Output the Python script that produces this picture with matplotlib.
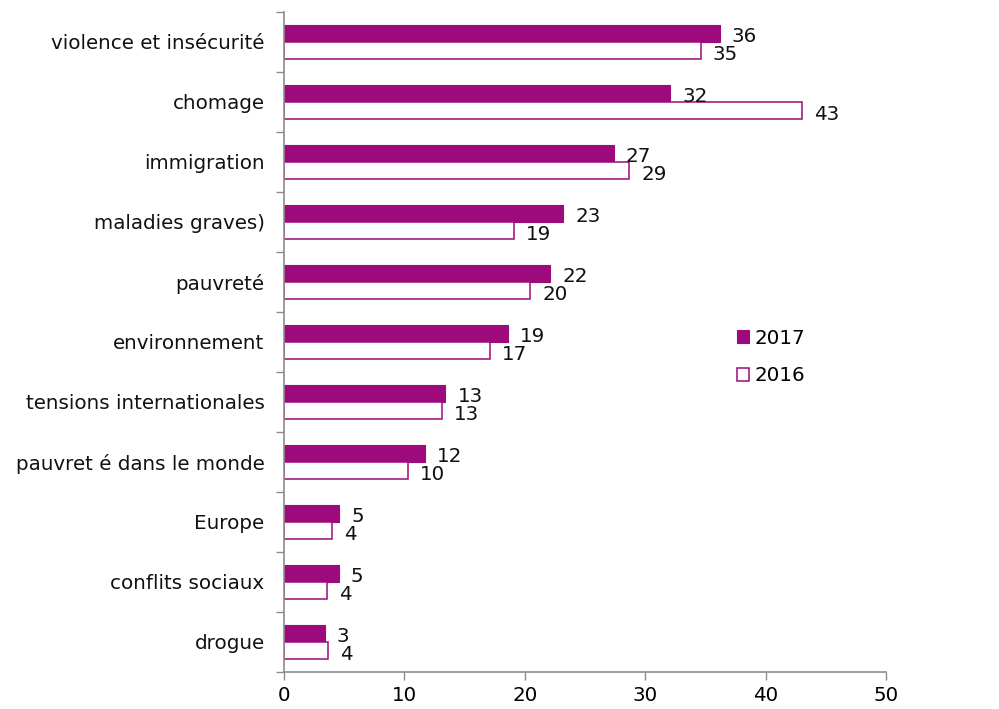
import matplotlib.pyplot as plt
import numpy as np

categories = ["violence et insécurité", "chomage", "immigration", "maladies graves)",
              "pauvreté", "environnement", "tensions internationales",
              "pauvret é dans le monde", "Europe", "conflits sociaux", "drogue"]
v2017 = [36.2, 32.1, 27.4, 23.2, 22.1, 18.6, 13.4, 11.7, 4.6, 4.55, 3.4]
v2016 = [34.6, 43.05, 28.65, 19.1, 20.45, 17.1, 13.1, 10.28, 3.97, 3.55, 3.65]
xticks = [0, 10, 20, 30, 40, 50]

purple = "#9c0a7b"
axis_col = "#8c8c8c"
fs = 14.3

fig = plt.figure(figsize=(9.99, 7.09), dpi=100)
ax = fig.add_axes([0.2843, 0.0522, 0.6026, 0.9309])

y = np.arange(len(categories))
h = 0.29
ax.barh(y - h / 2, v2017, height=h, color=purple, edgecolor=purple,
        linewidth=0.8, label="2017")
ax.barh(y + h / 2, v2016, height=h, color="white", edgecolor=purple,
        linewidth=1.1, label="2016")

# data labels, rounded like the source
for i in range(len(categories)):
    ax.text(v2017[i] + 1.0, y[i] - h / 2 + 0.06, "%.0f" % v2017[i],
            ha="left", va="center", fontsize=fs, color="#111111")
    ax.text(v2016[i] + 1.0, y[i] + h / 2 + 0.06, "%.0f" % v2016[i],
            ha="left", va="center", fontsize=fs, color="#111111")

ax.set_xlim(0, 50)
ax.set_ylim(len(categories) - 0.5, -0.5)
ax.set_xticks(xticks)
ax.set_xticklabels([str(t) for t in xticks], fontsize=fs)
ax.set_yticks(y)
ax.set_yticklabels(categories, fontsize=fs, color="#111111")
ax.set_yticks(np.arange(-0.5, len(categories), 1.0), minor=True)
ax.tick_params(axis="y", which="major", length=0, pad=14)
ax.tick_params(axis="y", which="minor", length=6, width=1, color=axis_col, direction="out")
ax.tick_params(axis="x", length=6, width=1, color=axis_col, direction="out", pad=4)

for s in ["top", "right"]:
    ax.spines[s].set_visible(False)
for s in ["left", "bottom"]:
    ax.spines[s].set_color(axis_col)
    ax.spines[s].set_linewidth(1.2)

ax.legend(loc="center left", bbox_to_anchor=(0.72, 0.4965), bbox_transform=fig.transFigure,
          frameon=False, fontsize=fs, handlelength=0.6, handleheight=0.6,
          handletextpad=0.25, labelspacing=0.95)

fig.savefig("out.png", dpi=100)
